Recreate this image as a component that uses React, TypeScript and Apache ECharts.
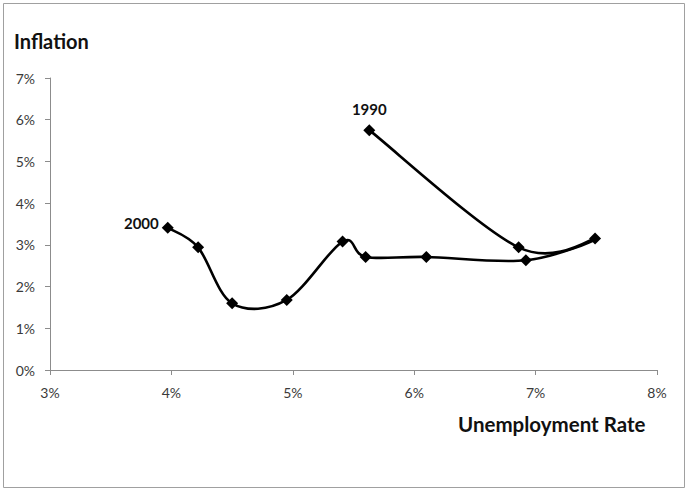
import React, { useEffect, useRef } from "react";
import * as echarts from "echarts";

const years = [1990, 1991, 1992, 1993, 1994, 1995, 1996, 1997, 1998, 1999, 2000];
const unemployment = [5.63, 6.86, 7.49, 6.92, 6.1, 5.6, 5.41, 4.95, 4.5, 4.22, 3.97];
const inflation = [5.75, 2.94, 3.15, 2.63, 2.71, 2.71, 3.08, 1.68, 1.6, 2.94, 3.41];
const xTicks = [3, 4, 5, 6, 7, 8];
const yTicks = [0, 1, 2, 3, 4, 5, 6, 7];

const FONT = "Lato, 'Open Sans', sans-serif";

export default function App() {
  const ref = useRef<HTMLDivElement>(null);
  useEffect(() => {
    if (!ref.current) return;
    const chart = echarts.init(ref.current, undefined, { renderer: "svg" });
    const pts = years.map((_, i) => [unemployment[i], inflation[i]]);
    const scatterData = years.map((y, i) => {
      const item: any = { value: pts[i] };
      if (i === 0) {
        item.label = { show: true, formatter: String(y), position: "top", distance: 8 };
      } else if (i === years.length - 1) {
        item.label = { show: true, formatter: String(y), position: "left", distance: 3, offset: [0, -5] };
      }
      return item;
    });
    const n = pts.length;
    chart.setOption({
      animation: false,
      backgroundColor: "#ffffff",
      grid: { left: 50, right: 29, top: 78, bottom: 119, containLabel: false },
      graphic: [
        {
          type: "rect",
          shape: { x: 3.5, y: 3.5, width: 681, height: 484 },
          style: { fill: "none", stroke: "#a0a0a0", lineWidth: 1 },
          silent: true,
        },
        {
          type: "text",
          left: 14,
          top: 31,
          style: { text: "Inflation", font: `bold 20px ${FONT}`, fill: "#111" },
        },
        {
          type: "text",
          left: 458,
          top: 413,
          style: { text: "Unemployment Rate", font: `bold 20.5px ${FONT}`, fill: "#111" },
        },
      ],
      xAxis: {
        type: "value",
        min: xTicks[0],
        max: xTicks[xTicks.length - 1],
        interval: 1,
        axisLine: { show: true, lineStyle: { color: "#8c8c8c", width: 1 } },
        axisTick: { show: true, inside: false, length: 5, lineStyle: { color: "#8c8c8c" } },
        splitLine: { show: false },
        axisLabel: {
          formatter: "{value}%",
          color: "#3a3a3a",
          fontSize: 14,
          fontFamily: FONT,
          margin: 15,
        },
      },
      yAxis: {
        type: "value",
        min: yTicks[0],
        max: yTicks[yTicks.length - 1],
        interval: 1,
        axisLine: { show: true, lineStyle: { color: "#8c8c8c", width: 1 } },
        axisTick: { show: true, inside: false, length: 5, lineStyle: { color: "#8c8c8c" } },
        splitLine: { show: false },
        axisLabel: {
          formatter: "{value}%",
          color: "#3a3a3a",
          fontSize: 14,
          fontFamily: FONT,
          margin: 15,
        },
      },
      series: [
        {
          type: "custom",
          data: pts,
          silent: true,
          z: 2,
          renderItem: (params: any, api: any) => {
            const i = params.dataIndex;
            if (i >= n - 1) return null;
            const c = (k: number) => {
              const kk = Math.max(0, Math.min(n - 1, k));
              return api.coord(pts[kk]);
            };
            const p0 = c(i - 1);
            const p1 = c(i);
            const p2 = c(i + 1);
            const p3 = c(i + 2);
            const t = 1 / 6;
            return {
              type: "bezierCurve",
              shape: {
                x1: p1[0],
                y1: p1[1],
                x2: p2[0],
                y2: p2[1],
                cpx1: p1[0] + (p2[0] - p0[0]) * t,
                cpy1: p1[1] + (p2[1] - p0[1]) * t,
                cpx2: p2[0] - (p3[0] - p1[0]) * t,
                cpy2: p2[1] - (p3[1] - p1[1]) * t,
              },
              style: { stroke: "#000", lineWidth: 2.6, fill: null },
            };
          },
        },
        {
          type: "scatter",
          data: scatterData,
          symbol: "diamond",
          symbolSize: 12,
          z: 3,
          itemStyle: { color: "#000", opacity: 1 },
          label: {
            color: "#111",
            fontWeight: "bold",
            fontSize: 15,
            fontFamily: FONT,
          },
        },
      ],
    });
    return () => chart.dispose();
  }, []);
  return (
    <div
      ref={ref}
      style={{ position: "fixed", left: 0, top: 0, width: 686, height: 489 }}
    />
  );
}
